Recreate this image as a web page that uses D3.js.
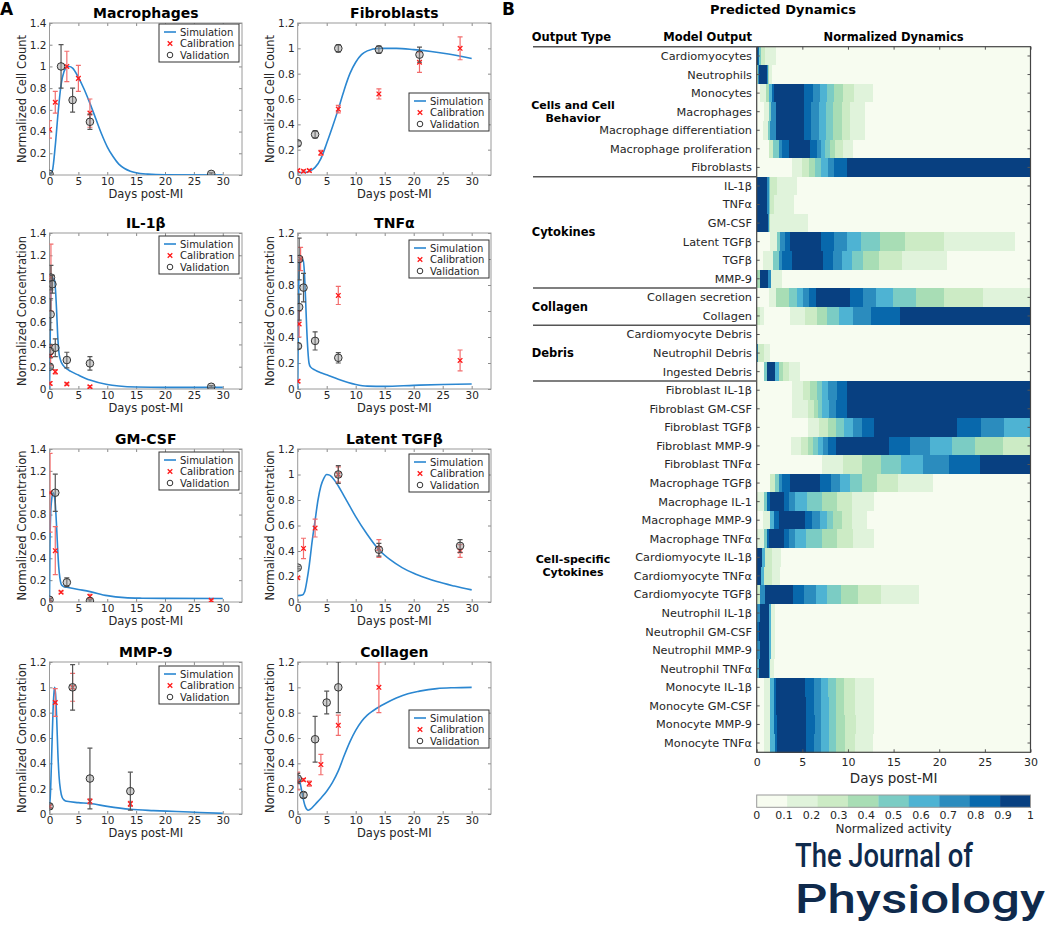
<!DOCTYPE html>
<html><head><meta charset="utf-8">
<script src="https://cdn.jsdelivr.net/npm/d3@7"></script>
<style>
body{margin:0;background:#fff;}
svg text{font-family:"DejaVu Sans",Verdana,sans-serif;fill:#262626;}
</style></head><body>
<svg id="chart" width="1050" height="929"></svg>
<script>
// ---------------- Panel A data ----------------
const panelTitles = ["Macrophages","Fibroblasts","IL-1β","TNFα","GM-CSF","Latent TGFβ","MMP-9","Collagen"];
const panelYLabels = ["Normalized Cell Count","Normalized Cell Count","Normalized Concentration","Normalized Concentration",
  "Normalized Concentration","Normalized Concentration","Normalized Concentration","Normalized Concentration"];
const panelYMax = [1.4,1.2,1.4,1.2,1.4,1.2,1.2,1.2];
const xTicks = [0,5,10,15,20,25,30];
const legendLabels = ["Simulation","Calibration","Validation"];

// simulation curves [day, value]
const macrophageSim = [[0,0],[0.5,0.04],[1,0.27],[1.5,0.58],[2,0.83],[2.5,0.95],[3,0.995],[3.4,1.0],[4,0.985],[5,0.9],[6,0.79],[7,0.66],[8,0.52],[9,0.38],[10,0.26],[11,0.17],[12,0.1],[13,0.06],[14,0.035],[15,0.02],[17,0.008],[20,0.002],[30,0]];
const fibroblastSim = [[0,0.02],[1,0.02],[2,0.03],[3,0.06],[4,0.13],[5,0.25],[6,0.38],[7,0.52],[8,0.67],[9,0.8],[10,0.89],[11,0.95],[12,0.98],[14,1.0],[17,1.0],[20,0.99],[23,0.975],[26,0.955],[30,0.92]];
const il1bSim = [[0,0],[0.1,0.35],[0.2,0.8],[0.3,0.98],[0.45,1.0],[0.85,0.98],[1.05,0.88],[1.25,0.68],[1.45,0.45],[1.65,0.32],[1.9,0.26],[2.4,0.21],[3,0.18],[3.6,0.16],[5,0.125],[7,0.08],[10,0.04],[12,0.027],[15,0.018],[20,0.015],[30,0.015]];
const tnfaSim = [[0,0],[0.1,0.45],[0.2,0.85],[0.3,0.98],[0.45,1.0],[0.95,0.99],[1.15,0.9],[1.35,0.7],[1.55,0.47],[1.75,0.3],[1.95,0.2],[2.2,0.17],[3,0.145],[4,0.125],[5,0.11],[7,0.075],[10,0.035],[12,0.022],[15,0.02],[20,0.028],[25,0.035],[30,0.038]];
const gmcsfSim = [[0,0],[0.08,0.5],[0.2,0.8],[0.4,0.95],[0.65,1.0],[0.85,0.97],[1.0,0.9],[1.2,0.72],[1.4,0.5],[1.6,0.32],[1.8,0.22],[2.1,0.155],[2.5,0.14],[3,0.135],[5,0.115],[7,0.095],[10,0.058],[13,0.04],[16,0.035],[20,0.033],[30,0.032]];
const latentTgfbSim = [[0,0.05],[0.8,0.055],[1.2,0.08],[1.6,0.17],[2,0.29],[2.5,0.48],[3,0.64],[3.5,0.8],[4,0.91],[4.5,0.97],[5,1.0],[5.5,0.995],[6,0.975],[7,0.91],[8,0.83],[9,0.75],[10,0.67],[12,0.53],[14,0.41],[16,0.33],[18,0.27],[20,0.225],[22,0.19],[24,0.16],[27,0.125],[30,0.095]];
const mmp9Sim = [[0,0.05],[0.2,0.2],[0.4,0.5],[0.6,0.8],[0.8,0.97],[0.9,1.0],[1.05,0.95],[1.25,0.75],[1.45,0.48],[1.65,0.3],[1.9,0.19],[2.2,0.13],[2.6,0.108],[3,0.1],[5,0.09],[7,0.083],[10,0.06],[14,0.037],[18,0.027],[22,0.02],[26,0.012],[30,0.005]];
const collagenSim = [[0,0.3],[0.2,0.29],[0.4,0.25],[0.7,0.18],[1,0.11],[1.3,0.06],[1.6,0.035],[1.8,0.03],[2.1,0.035],[2.5,0.05],[3,0.075],[4,0.125],[5,0.18],[6,0.25],[7,0.34],[8,0.46],[9,0.57],[10,0.66],[11,0.73],[12,0.78],[13,0.815],[14,0.845],[15,0.87],[17,0.915],[19,0.95],[21,0.97],[24,0.99],[27,0.997],[30,1.0]];

// calibration / validation data [day, mean, error]
const macrophageCal = [[0,0.42,0.08],[1,0.67,0.1],[3,1.0,0.14],[5,0.89,0.12],[7,0.57,0.13]];
const macrophageVal = [[0,0.01,0.01],[2,1.0,0.2],[4,0.69,0.11],[7,0.49,0.07],[28,0.01,0.01]];
const fibroblastCal = [[0,0.035,0.01],[1,0.03,0.01],[2,0.035,0.01],[4,0.175,0.02],[7,0.52,0.03],[14,0.64,0.04],[21,0.89,0.08],[28,1.0,0.09]];
const fibroblastVal = [[0,0.25,0.02],[3,0.32,0.03],[7,1.0,0.03],[14,0.99,0.03],[21,0.95,0.06]];
const il1bCal = [[0.1,0.05,0.015],[0.2,0.3,0.09],[0.25,1.0,0.3],[1,0.155,0.02],[3,0.045,0.01],[7,0.02,0.01]];
const il1bVal = [[0.05,0.2,0.02],[0.1,0.34,0.06],[0.2,0.67,0.14],[0.25,1.0,0.11],[0.5,0.94,0.08],[1,0.37,0.08],[3,0.26,0.07],[7,0.23,0.06],[28,0.02,0.01]];
const tnfaCal = [[0.05,0.06,0.01],[0.25,0.5,0.1],[0.5,1.0,0.09],[7,0.72,0.07],[28,0.22,0.08]];
const tnfaVal = [[0.05,0.33,0.02],[0.25,0.63,0.1],[0.25,1.0,0.16],[1,0.78,0.11],[3,0.37,0.07],[7,0.24,0.04]];
const gmcsfCal = [[0,0.02,0.01],[0.1,1.0,0.36],[1,0.47,0.22],[2,0.09,0.01],[7,0.05,0.02],[28,0.015,0.01]];
const gmcsfVal = [[0,0.02,0.01],[1,1.0,0.17],[3,0.18,0.04],[7,0.01,0.01]];
const latentTgfbCal = [[0,0.19,0.01],[1,0.42,0.08],[3,0.58,0.07],[7,1.0,0.06],[14,0.42,0.07],[28,0.4,0.05]];
const latentTgfbVal = [[0,0.27,0.01],[7,1.0,0.07],[14,0.41,0.05],[28,0.44,0.05]];
const mmp9Cal = [[0,0.06,0.01],[1,0.88,0.11],[4,1.0,0.11],[7,0.1,0.02],[14,0.08,0.02]];
const mmp9Val = [[0,0.06,0.02],[4,1.0,0.18],[7,0.28,0.24],[14,0.18,0.15]];
const collagenCal = [[0,0.26,0.07],[1,0.27,0.01],[2,0.24,0.02],[4,0.39,0.08],[7,0.7,0.08],[14,1.0,0.2]];
const collagenVal = [[0,0.28,0.04],[1,0.15,0.02],[3,0.59,0.18],[5,0.88,0.09],[7,1.0,0.2]];

const simCurves = [macrophageSim,fibroblastSim,il1bSim,tnfaSim,gmcsfSim,latentTgfbSim,mmp9Sim,collagenSim];
const calData = [macrophageCal,fibroblastCal,il1bCal,tnfaCal,gmcsfCal,latentTgfbCal,mmp9Cal,collagenCal];
const valData = [macrophageVal,fibroblastVal,il1bVal,tnfaVal,gmcsfVal,latentTgfbVal,mmp9Val,collagenVal];

// ---------------- Panel B data ----------------
const outputTypes = ["Cells and Cell|Behavior","Cytokines","Collagen","Debris","Cell-specific|Cytokines"];
const outputTypeRowStart = [0,7,13,15,18];
const outputTypeRowEnd = [7,13,15,18,38];
const modelOutputs = ["Cardiomyocytes","Neutrophils","Monocytes","Macrophages","Macrophage differentiation","Macrophage proliferation","Fibroblasts",
  "IL-1β","TNFα","GM-CSF","Latent TGFβ","TGFβ","MMP-9",
  "Collagen secretion","Collagen",
  "Cardiomyocyte Debris","Neutrophil Debris","Ingested Debris",
  "Fibroblast IL-1β","Fibroblast GM-CSF","Fibroblast TGFβ","Fibroblast MMP-9","Fibroblast TNFα",
  "Macrophage TGFβ","Macrophage IL-1","Macrophage MMP-9","Macrophage TNFα",
  "Cardiomyocyte IL-1β","Cardiomyocyte TNFα","Cardiomyocyte TGFβ",
  "Neutrophil IL-1β","Neutrophil GM-CSF","Neutrophil MMP-9","Neutrophil TNFα",
  "Monocyte IL-1β","Monocyte GM-CSF","Monocyte MMP-9","Monocyte TNFα"];
// each row: [startDay, normalized activity] steps (held until next start, last until day 30)
const dynamics = [
  [[0,1],[0.15,0.8],[0.3,0.5],[0.45,0.25],[0.9,0.15],[2.1,0]],
  [[0,0.4],[0.1,0.7],[0.2,1],[1.1,0.7],[1.2,0.4],[1.3,0.15],[1.7,0]],
  [[0,0],[0.4,0.15],[1.0,0.4],[1.3,0.6],[1.65,0.8],[1.95,1],[5.2,0.8],[6.15,0.7],[6.95,0.6],[7.75,0.5],[8.5,0.4],[9.5,0.25],[10.7,0.15],[12.7,0]],
  [[0,0],[0.8,0.15],[1.3,0.5],[1.6,0.7],[2.1,1],[5.2,0.8],[6.0,0.7],[6.85,0.6],[7.6,0.5],[8.4,0.4],[9.3,0.25],[10.2,0.15],[11.9,0]],
  [[0,0],[0.7,0.15],[1.2,0.5],[1.5,0.7],[2.1,1],[5.2,0.8],[5.9,0.7],[6.8,0.6],[7.6,0.5],[8.4,0.4],[9.3,0.25],[10.2,0.15],[11.9,0]],
  [[0,0],[1.3,0.25],[1.8,0.5],[2.4,0.7],[2.75,0.8],[3.5,1],[5.85,0.8],[6.6,0.7],[7.1,0.6],[7.5,0.5],[8.05,0.4],[8.6,0.25],[9.5,0.15],[10.5,0]],
  [[0,0],[3.9,0.15],[5.0,0.25],[5.75,0.4],[6.4,0.5],[7.05,0.6],[7.8,0.7],[8.5,0.8],[9.9,1]],
  [[0,0.6],[0.05,1],[1.15,0.7],[1.3,0.5],[1.45,0.25],[2.2,0.15],[4.4,0]],
  [[0,0.6],[0.05,1],[1.15,0.7],[1.3,0.5],[1.45,0.25],[1.9,0.15],[4.1,0]],
  [[0,0.6],[0.05,1],[1.2,0.7],[1.35,0.4],[1.5,0.15],[5.6,0]],
  [[0,0],[1.5,0.15],[2.2,0.5],[2.55,0.7],[3.1,0.8],[3.65,1],[7.1,0.8],[8.5,0.7],[9.9,0.6],[11.45,0.5],[13.5,0.4],[16.2,0.25],[20.55,0.15],[28.25,0]],
  [[0,0],[0.7,0.15],[1.8,0.5],[2.4,0.7],[2.75,0.8],[3.9,1],[7.3,0.8],[8.4,0.7],[9.35,0.6],[10.45,0.5],[11.65,0.4],[13.35,0.25],[15.9,0.15],[20.9,0]],
  [[0,0.4],[0.35,1],[1.25,0.7],[1.55,0.15],[2.75,0]],
  [[0,0],[1.3,0.15],[2.1,0.4],[3.5,0.5],[4.4,0.6],[5.1,0.7],[5.75,0.8],[6.5,1],[10.25,0.8],[11.65,0.7],[13.1,0.6],[14.95,0.5],[17.4,0.4],[20.5,0.25],[24.8,0.15]],
  [[0,0.25],[0.4,0.15],[0.8,0],[3.65,0.15],[5.3,0.25],[6.6,0.4],[7.75,0.5],[9.05,0.6],[10.5,0.7],[12.5,0.8],[15.75,1]],
  [[0,0.7],[0.08,0]],
  [[0,0.7],[0.18,0.25],[0.75,0.15],[1.45,0]],
  [[0,0],[0.75,0.5],[1.1,1],[2.0,0.6],[2.4,0.4],[2.9,0.25],[3.55,0.15],[4.75,0]],
  [[0,0],[3.9,0.15],[5.1,0.25],[5.85,0.4],[6.6,0.5],[7.15,0.6],[7.85,0.7],[8.8,0.8],[9.9,1]],
  [[0,0],[3.9,0.15],[5.65,0.25],[6.3,0.4],[6.75,0.5],[7.2,0.6],[7.9,0.7],[8.7,0.8],[9.9,1]],
  [[0,0],[5.65,0.15],[6.85,0.25],[7.8,0.4],[8.65,0.5],[9.6,0.6],[10.5,0.7],[11.55,0.8],[12.9,1],[21.95,0.8],[24.6,0.7],[27.15,0.6]],
  [[0,0],[3.75,0.15],[4.85,0.25],[5.6,0.4],[6.2,0.5],[6.75,0.6],[7.3,0.7],[7.85,0.8],[8.65,1],[14.45,0.8],[16.75,0.7],[18.95,0.6],[21.35,0.5],[23.95,0.4],[26.95,0.25]],
  [[0,0],[7.15,0.15],[9.45,0.25],[11.55,0.4],[13.6,0.5],[15.85,0.6],[18.2,0.7],[21.05,0.8],[24.5,1]],
  [[0,0],[1.45,0.25],[2.0,0.5],[2.4,0.7],[2.75,0.8],[3.65,1],[6.95,0.8],[8.1,0.7],[9.15,0.6],[10.25,0.5],[11.55,0.4],[13.15,0.25],[15.5,0.15],[19.3,0]],
  [[0,0.15],[0.75,0.5],[1.1,0.8],[1.45,1],[2.95,0.8],[3.5,0.7],[4.2,0.6],[5.5,0.5],[7.15,0.4],[8.8,0.25],[10.45,0.15],[12.8,0]],
  [[0,0],[0.7,0.15],[1.45,0.6],[1.9,0.8],[2.4,1],[5.25,0.8],[6.1,0.7],[6.95,0.6],[7.75,0.5],[8.4,0.4],[9.4,0.25],[10.45,0.15],[12.05,0]],
  [[0,0.15],[0.75,0.5],[1.1,0.8],[1.4,1],[2.95,0.8],[3.5,0.7],[4.2,0.6],[5.45,0.5],[7.15,0.4],[8.8,0.25],[10.6,0.15],[12.8,0]],
  [[0,1],[0.55,0.6],[0.9,0.25],[1.65,0.15],[2.65,0]],
  [[0,1],[0.45,0.6],[0.75,0.25],[1.65,0.15],[2.55,0]],
  [[0,0.25],[0.4,0.7],[0.9,1],[4.0,0.8],[5.2,0.7],[6.5,0.6],[7.75,0.5],[9.2,0.4],[11.15,0.25],[13.6,0.15],[17.75,0]],
  [[0,0.7],[0.35,1],[1.3,0.6],[1.55,0.15],[2.0,0]],
  [[0,0.8],[0.3,1],[1.3,0.6],[1.55,0.15],[2.0,0]],
  [[0,0.7],[0.35,1],[1.35,0.6],[1.6,0.15],[2.05,0]],
  [[0,0.6],[0.3,1],[1.3,0.6],[1.5,0.15],[1.95,0]],
  [[0,0],[0.75,0.15],[1.45,0.6],[1.85,0.8],[2.1,1],[5.3,0.8],[6.3,0.7],[7.05,0.6],[7.85,0.5],[8.65,0.4],[9.6,0.25],[10.8,0.15],[12.8,0]],
  [[0,0],[0.75,0.15],[1.5,0.6],[1.9,0.8],[2.15,1],[5.35,0.8],[6.3,0.7],[7.05,0.6],[7.9,0.5],[8.7,0.4],[9.6,0.25],[10.8,0.15],[12.85,0]],
  [[0,0],[0.75,0.15],[1.5,0.6],[1.95,0.8],[2.2,1],[5.35,0.8],[6.35,0.7],[7.1,0.6],[7.9,0.5],[8.7,0.4],[9.65,0.25],[10.85,0.15],[12.9,0]],
  [[0,0],[0.75,0.15],[1.5,0.6],[2.0,0.8],[2.25,1],[5.35,0.8],[6.3,0.7],[7.1,0.6],[7.9,0.5],[8.7,0.4],[9.7,0.25],[10.75,0.15],[12.75,0]]
];
const heatTicks = [0,5,10,15,20,25,30];
const colorbarTicks = [0,0.1,0.2,0.3,0.4,0.5,0.6,0.7,0.8,0.9,1];
const gnbu9 = ["#f7fcf0","#e0f3db","#ccebc5","#a8ddb5","#7bccc4","#4eb3d3","#2b8cbe","#0868ac","#084081"];

// ---------------- drawing ----------------
const svg = d3.select("#chart");
svg.append("rect").attr("width",1050).attr("height",929).attr("fill","#fff");
const simColor = "#2b87d1", calColor = "#ff1a1a", calErr = "#f26d6d", valColor = "#333";

const colX = [[49.5,242],[297.7,491]];
const rowY = [[23,175],[233,389],[449,602],[662,814]];
const legendDy = [1,70,3,7,3,5,4,48];

svg.append("text").attr("x",0).attr("y",15).attr("font-size",17).attr("font-weight","bold").style("fill","#000").text("A");
svg.append("text").attr("x",502).attr("y",15).attr("font-size",17).attr("font-weight","bold").style("fill","#000").text("B");

const defs = svg.append("defs");
panelTitles.forEach((title,i)=>{
  const col=i%2,row=Math.floor(i/2);
  const [x0,x1]=colX[col],[y0,y1]=rowY[row];
  const x=d3.scaleLinear().domain([0,33.33]).range([x0,x1]);
  const y=d3.scaleLinear().domain([0,panelYMax[i]]).range([y1,y0]);
  const yTicks=d3.range(0,panelYMax[i]+1e-6,0.2);
  const g=svg.append("g");
  defs.append("clipPath").attr("id","clip"+i).append("rect").attr("x",x0).attr("y",y0).attr("width",x1-x0).attr("height",y1-y0);

  const fmt=d=>d3.format("~g")(+d.toFixed(2));
  const ax=(sel)=>{sel.select(".domain").remove();sel.selectAll(".tick line").attr("stroke","#8a8a8a");sel.selectAll("text").attr("font-size",10.5).style("fill","#262626");};
  g.append("g").attr("transform",`translate(0,${y1})`).call(d3.axisBottom(x).tickValues(xTicks).tickSize(-3).tickPadding(3)).call(ax);
  g.append("g").attr("transform",`translate(0,${y0})`).call(d3.axisTop(x).tickValues(xTicks).tickSize(-3).tickFormat("")).call(ax);
  g.append("g").attr("transform",`translate(${x0},0)`).call(d3.axisLeft(y).tickValues(yTicks).tickSize(-3).tickPadding(3).tickFormat(fmt)).call(ax);
  g.append("g").attr("transform",`translate(${x1},0)`).call(d3.axisRight(y).tickValues(yTicks).tickSize(-3).tickFormat("")).call(ax);
  g.append("rect").attr("x",x0).attr("y",y0).attr("width",x1-x0).attr("height",y1-y0).attr("fill","none").attr("stroke","#9a9a9a").attr("stroke-width",1);

  g.append("text").attr("x",(x0+x1)/2).attr("y",y0-5).attr("text-anchor","middle").attr("font-size",14).attr("font-weight","bold").style("fill","#000").text(title);
  g.append("text").attr("x",(x0+x1)/2).attr("y",y1+23).attr("text-anchor","middle").attr("font-size",11.5).text("Days post-MI");
  g.append("text").attr("transform",`translate(${x0-28},${(y0+y1)/2}) rotate(-90)`).attr("text-anchor","middle").attr("dy","0.35em").attr("font-size",11.5).text(panelYLabels[i]);

  const pg=g.append("g").attr("clip-path",`url(#clip${i})`);
  pg.append("path").datum(simCurves[i]).attr("fill","none").attr("stroke",simColor).attr("stroke-width",1.6)
    .attr("d",d3.line().x(d=>x(d[0])).y(d=>y(d[1])).curve(d3.curveMonotoneX));
  // calibration
  calData[i].forEach(d=>{
    const cx=x(d[0]),ylo=y(d[1]-d[2]),yhi=y(d[1]+d[2]);
    pg.append("line").attr("x1",cx).attr("x2",cx).attr("y1",ylo).attr("y2",yhi).attr("stroke",calErr).attr("stroke-width",1.2);
    [ylo,yhi].forEach(v=>pg.append("line").attr("x1",cx-2.5).attr("x2",cx+2.5).attr("y1",v).attr("y2",v).attr("stroke",calErr).attr("stroke-width",1.2));
    const cy=y(d[1]),s=2.3;
    pg.append("path").attr("d",`M${cx-s},${cy-s}L${cx+s},${cy+s}M${cx-s},${cy+s}L${cx+s},${cy-s}`).attr("stroke",calColor).attr("stroke-width",1.3);
  });
  // validation
  valData[i].forEach(d=>{
    const cx=x(d[0]),ylo=y(d[1]-d[2]),yhi=y(d[1]+d[2]);
    pg.append("line").attr("x1",cx).attr("x2",cx).attr("y1",ylo).attr("y2",yhi).attr("stroke","#555").attr("stroke-width",1.2);
    [ylo,yhi].forEach(v=>pg.append("line").attr("x1",cx-2.5).attr("x2",cx+2.5).attr("y1",v).attr("y2",v).attr("stroke","#555").attr("stroke-width",1.2));
    pg.append("circle").attr("cx",cx).attr("cy",y(d[1])).attr("r",3.8).attr("fill","rgba(150,150,150,0.45)").attr("stroke",valColor).attr("stroke-width",1);
  });
  // legend
  const lx=x1-(col===0?83:82), ly=y0+legendDy[i];
  const lg=g.append("g").attr("transform",`translate(${lx},${ly})`);
  lg.append("rect").attr("width",80).attr("height",38).attr("fill","#fff").attr("stroke","#333").attr("stroke-width",1);
  legendLabels.forEach((lab,k)=>{
    const cy=8+k*11.5;
    if(k===0) lg.append("line").attr("x1",5).attr("x2",17).attr("y1",cy).attr("y2",cy).attr("stroke",simColor).attr("stroke-width",1.6);
    if(k===1){const s=2.3;lg.append("path").attr("d",`M${11-s},${cy-s}L${11+s},${cy+s}M${11-s},${cy+s}L${11+s},${cy-s}`).attr("stroke",calColor).attr("stroke-width",1.3);}
    if(k===2) lg.append("circle").attr("cx",11).attr("cy",cy).attr("r",2.8).attr("fill","none").attr("stroke",valColor).attr("stroke-width",1);
    lg.append("text").attr("x",21).attr("y",cy).attr("dy","0.35em").attr("font-size",10).text(lab);
  });
});

// ---------------- Heatmap ----------------
const hm={x0:756.7,x1:1030.5,y0:46.7,y1:752.3};
const hx=d3.scaleLinear().domain([0,30]).range([hm.x0,hm.x1]);
const hy=d3.scaleBand().domain(d3.range(modelOutputs.length)).range([hm.y0,hm.y1]);
const color=d3.scaleQuantize().domain([0,1]).range(gnbu9);
const hg=svg.append("g");
hg.append("text").attr("x",783).attr("y",14).attr("text-anchor","middle").attr("font-size",13).attr("font-weight","bold").style("fill","#000").text("Predicted Dynamics");
hg.append("text").attr("x",531.7).attr("y",41).attr("font-size",11.5).attr("font-weight","bold").style("fill","#000").text("Output Type");
hg.append("text").attr("x",752).attr("y",41).attr("text-anchor","end").attr("font-size",11.5).attr("font-weight","bold").style("fill","#000").text("Model Output");
hg.append("text").attr("x",(hm.x0+hm.x1)/2).attr("y",41).attr("text-anchor","middle").attr("font-size",11.5).attr("font-weight","bold").style("fill","#000").text("Normalized Dynamics");

dynamics.forEach((steps,r)=>{
  steps.forEach((s,k)=>{
    const end = k<steps.length-1 ? steps[k+1][0] : 30;
    hg.append("rect").attr("x",hx(s[0])).attr("y",hy(r)).attr("width",Math.max(0,hx(end)-hx(s[0]))+0.4)
      .attr("height",hy.bandwidth()+0.4).attr("fill",color(s[1])).attr("shape-rendering","crispEdges");
  });
});
hg.append("rect").attr("x",hm.x1+0.5).attr("y",hm.y0-1).attr("width",10).attr("height",hm.y1-hm.y0+2).attr("fill","#fff");

// row labels + ticks
modelOutputs.forEach((lab,r)=>{
  const cy=hy(r)+hy.bandwidth()/2;
  hg.append("text").attr("x",752).attr("y",cy).attr("dy","0.35em").attr("text-anchor","end").attr("font-size",11.3).text(lab);
  hg.append("line").attr("x1",hm.x0).attr("x2",hm.x0+3).attr("y1",cy).attr("y2",cy).attr("stroke","#555");
  hg.append("line").attr("x1",hm.x1-3).attr("x2",hm.x1).attr("y1",cy).attr("y2",cy).attr("stroke","#555");
});
const hax=(sel)=>{sel.select(".domain").remove();sel.selectAll(".tick line").attr("stroke","#555");sel.selectAll("text").attr("font-size",11).style("fill","#262626");};
hg.append("g").attr("transform",`translate(0,${hm.y1})`).call(d3.axisBottom(hx).tickValues(heatTicks).tickSize(-3).tickPadding(6)).call(hax);
hg.append("g").attr("transform",`translate(0,${hm.y0})`).call(d3.axisTop(hx).tickValues(heatTicks).tickSize(-3).tickFormat("")).call(hax);
hg.append("rect").attr("x",hm.x0).attr("y",hm.y0).attr("width",hm.x1-hm.x0).attr("height",hm.y1-hm.y0).attr("fill","none").attr("stroke","#444").attr("stroke-width",1.2);
hg.append("text").attr("x",(hm.x0+hm.x1)/2).attr("y",783).attr("text-anchor","middle").attr("font-size",13.5).text("Days post-MI");

// group separators and labels
outputTypeRowStart.forEach((rs,k)=>{
  const yy=hy(rs);
  hg.append("line").attr("x1",533).attr("x2",hm.x0).attr("y1",yy).attr("y2",yy).attr("stroke","#555").attr("stroke-width",1.5);
  const cy=(hy(rs)+hy(outputTypeRowEnd[k]-1)+hy.bandwidth())/2;
  const lines=outputTypes[k].split("|");
  if(lines.length===1){
    hg.append("text").attr("x",531.7).attr("y",cy).attr("dy","0.35em").attr("font-size",11.5).attr("font-weight","bold").style("fill","#000").text(lines[0]);
  } else {
    lines.forEach((ln,j)=>hg.append("text").attr("x",573).attr("y",cy-7+j*13).attr("dy","0.35em").attr("text-anchor","middle")
      .attr("font-size",11).attr("font-weight","bold").style("fill","#000").text(ln));
  }
});

// colorbar
const cb=d3.scaleLinear().domain([0,1]).range([hm.x0,hm.x1]);
gnbu9.forEach((c,k)=>{
  hg.append("rect").attr("x",cb(k/9)).attr("y",795).attr("width",cb((k+1)/9)-cb(k/9)+0.3).attr("height",12.3).attr("fill",c);
});
hg.append("rect").attr("x",hm.x0).attr("y",795).attr("width",hm.x1-hm.x0).attr("height",12.3).attr("fill","none").attr("stroke","#999");
colorbarTicks.forEach(t=>hg.append("text").attr("x",cb(t)).attr("y",819).attr("text-anchor","middle").attr("font-size",11).text(d3.format("~g")(t)));
hg.append("text").attr("x",(hm.x0+hm.x1)/2).attr("y",833).attr("text-anchor","middle").attr("font-size",12).text("Normalized activity");

// journal logo
svg.append("text").attr("x",795).attr("y",867).attr("font-size",33).attr("font-weight",500).attr("textLength",178).attr("lengthAdjust","spacingAndGlyphs")
  .style("font-family","Roboto, sans-serif").style("fill","#0f2a4c").text("The Journal of");
svg.append("text").attr("x",795).attr("y",913).attr("font-size",40).attr("font-weight",500).attr("textLength",250).attr("lengthAdjust","spacingAndGlyphs")
  .style("font-family","Roboto, sans-serif").style("fill","#0f2a4c").text("Physiology");
</script>
</body></html>
